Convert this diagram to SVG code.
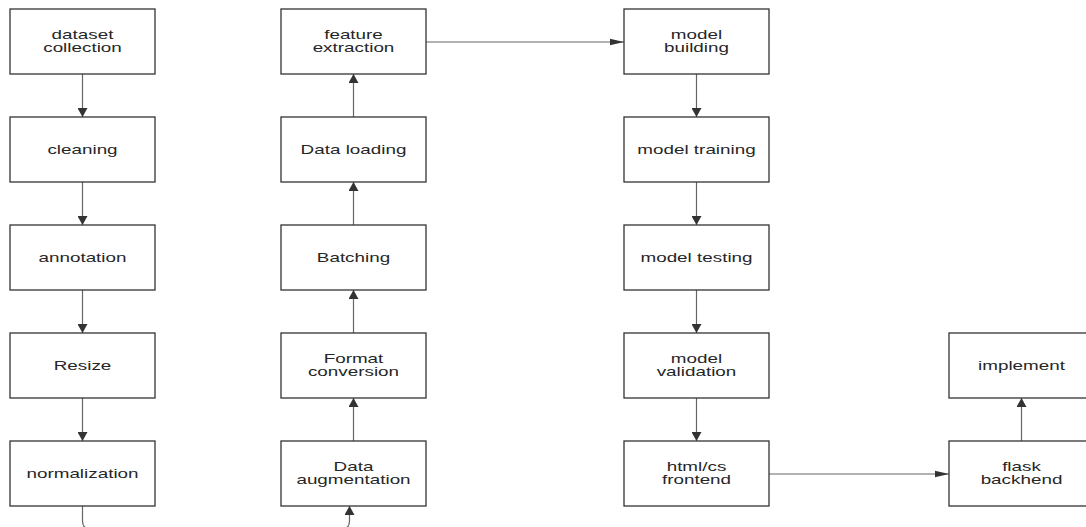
<svg xmlns="http://www.w3.org/2000/svg" width="1086" height="527" viewBox="0 0 1086 527">
  <style>
    .box { fill: #ffffff; stroke: #333333; stroke-width: 1.3; }
    .lbl { font-family: "Liberation Sans", Arial, sans-serif; font-size: 13px; fill: #262626; text-anchor: middle; }
    .conn { fill: none; stroke: #666666; stroke-width: 1.2; }
  </style>
  <defs>
    <marker id="arrV" markerUnits="userSpaceOnUse" markerWidth="10" markerHeight="10" refX="8" refY="4.5" orient="auto" viewBox="0 0 8 9">
      <polygon points="0,0 8,4.5 0,9" fill="#333333"/>
    </marker>
    <marker id="arrH" markerUnits="userSpaceOnUse" markerWidth="14" markerHeight="8" refX="13" refY="3" orient="auto" viewBox="0 0 13 6">
      <polygon points="0,0 13,3 0,6" fill="#333333"/>
    </marker>
  </defs>
  <rect width="1086" height="527" fill="#ffffff"/>

  <g id="connectors">
    <line class="conn" x1="82.5" y1="74" x2="82.5" y2="117" marker-end="url(#arrV)"/>
    <line class="conn" x1="82.5" y1="182" x2="82.5" y2="225" marker-end="url(#arrV)"/>
    <line class="conn" x1="82.5" y1="290" x2="82.5" y2="333" marker-end="url(#arrV)"/>
    <line class="conn" x1="82.5" y1="398" x2="82.5" y2="441" marker-end="url(#arrV)"/>
    <path class="conn" d="M82.5 506 V521 Q82.5 529 90.5 529 H341.5 Q349.5 529 349.5 521 V506" marker-end="url(#arrV)"/>
    <line class="conn" x1="353.5" y1="441" x2="353.5" y2="398" marker-end="url(#arrV)"/>
    <line class="conn" x1="353.5" y1="333" x2="353.5" y2="290" marker-end="url(#arrV)"/>
    <line class="conn" x1="353.5" y1="225" x2="353.5" y2="182" marker-end="url(#arrV)"/>
    <line class="conn" x1="353.5" y1="117" x2="353.5" y2="74" marker-end="url(#arrV)"/>
    <line class="conn" x1="426" y1="42" x2="624" y2="42" marker-end="url(#arrH)"/>
    <line class="conn" x1="696.5" y1="74" x2="696.5" y2="117" marker-end="url(#arrV)"/>
    <line class="conn" x1="696.5" y1="182" x2="696.5" y2="225" marker-end="url(#arrV)"/>
    <line class="conn" x1="696.5" y1="290" x2="696.5" y2="333" marker-end="url(#arrV)"/>
    <line class="conn" x1="696.5" y1="398" x2="696.5" y2="441" marker-end="url(#arrV)"/>
    <line class="conn" x1="769" y1="474" x2="949" y2="474" marker-end="url(#arrH)"/>
    <line class="conn" x1="1021.5" y1="441" x2="1021.5" y2="398" marker-end="url(#arrV)"/>
  </g>

  <g id="n-dataset-collection">
    <rect class="box" x="10" y="9" width="145" height="65"/>
    <text class="lbl" transform="translate(82.5,38.5) scale(1.45,1)"><tspan x="0">dataset</tspan><tspan x="0" dy="13.5">collection</tspan></text>
  </g>
  <g id="n-cleaning">
    <rect class="box" x="10" y="117" width="145" height="65"/>
    <text class="lbl" transform="translate(82.5,154.3) scale(1.45,1)">cleaning</text>
  </g>
  <g id="n-annotation">
    <rect class="box" x="10" y="225" width="145" height="65"/>
    <text class="lbl" transform="translate(82.5,262.3) scale(1.45,1)">annotation</text>
  </g>
  <g id="n-resize">
    <rect class="box" x="10" y="333" width="145" height="65"/>
    <text class="lbl" transform="translate(82.5,370.3) scale(1.45,1)">Resize</text>
  </g>
  <g id="n-normalization">
    <rect class="box" x="10" y="441" width="145" height="65"/>
    <text class="lbl" transform="translate(82.5,478.3) scale(1.45,1)">normalization</text>
  </g>

  <g id="n-feature-extraction">
    <rect class="box" x="281" y="9" width="145" height="65"/>
    <text class="lbl" transform="translate(353.5,38.5) scale(1.45,1)"><tspan x="0">feature</tspan><tspan x="0" dy="13.5">extraction</tspan></text>
  </g>
  <g id="n-data-loading">
    <rect class="box" x="281" y="117" width="145" height="65"/>
    <text class="lbl" transform="translate(353.5,154.3) scale(1.45,1)">Data loading</text>
  </g>
  <g id="n-batching">
    <rect class="box" x="281" y="225" width="145" height="65"/>
    <text class="lbl" transform="translate(353.5,262.3) scale(1.45,1)">Batching</text>
  </g>
  <g id="n-format-conversion">
    <rect class="box" x="281" y="333" width="145" height="65"/>
    <text class="lbl" transform="translate(353.5,362.5) scale(1.45,1)"><tspan x="0">Format</tspan><tspan x="0" dy="13.5">conversion</tspan></text>
  </g>
  <g id="n-data-augmentation">
    <rect class="box" x="281" y="441" width="145" height="65"/>
    <text class="lbl" transform="translate(353.5,470.5) scale(1.45,1)"><tspan x="0">Data</tspan><tspan x="0" dy="13.5">augmentation</tspan></text>
  </g>

  <g id="n-model-building">
    <rect class="box" x="624" y="9" width="145" height="65"/>
    <text class="lbl" transform="translate(696.5,38.5) scale(1.45,1)"><tspan x="0">model</tspan><tspan x="0" dy="13.5">building</tspan></text>
  </g>
  <g id="n-model-training">
    <rect class="box" x="624" y="117" width="145" height="65"/>
    <text class="lbl" transform="translate(696.5,154.3) scale(1.45,1)">model training</text>
  </g>
  <g id="n-model-testing">
    <rect class="box" x="624" y="225" width="145" height="65"/>
    <text class="lbl" transform="translate(696.5,262.3) scale(1.45,1)">model testing</text>
  </g>
  <g id="n-model-validation">
    <rect class="box" x="624" y="333" width="145" height="65"/>
    <text class="lbl" transform="translate(696.5,362.5) scale(1.45,1)"><tspan x="0">model</tspan><tspan x="0" dy="13.5">validation</tspan></text>
  </g>
  <g id="n-html-frontend">
    <rect class="box" x="624" y="441" width="145" height="65"/>
    <text class="lbl" transform="translate(696.5,470.5) scale(1.45,1)"><tspan x="0">html/cs</tspan><tspan x="0" dy="13.5">frontend</tspan></text>
  </g>

  <g id="n-implement">
    <rect class="box" x="949" y="333" width="145" height="65"/>
    <text class="lbl" transform="translate(1021.5,370.3) scale(1.45,1)">implement</text>
  </g>
  <g id="n-flask-backhend">
    <rect class="box" x="949" y="441" width="145" height="65"/>
    <text class="lbl" transform="translate(1021.5,470.5) scale(1.45,1)"><tspan x="0">flask</tspan><tspan x="0" dy="13.5">backhend</tspan></text>
  </g>
</svg>
